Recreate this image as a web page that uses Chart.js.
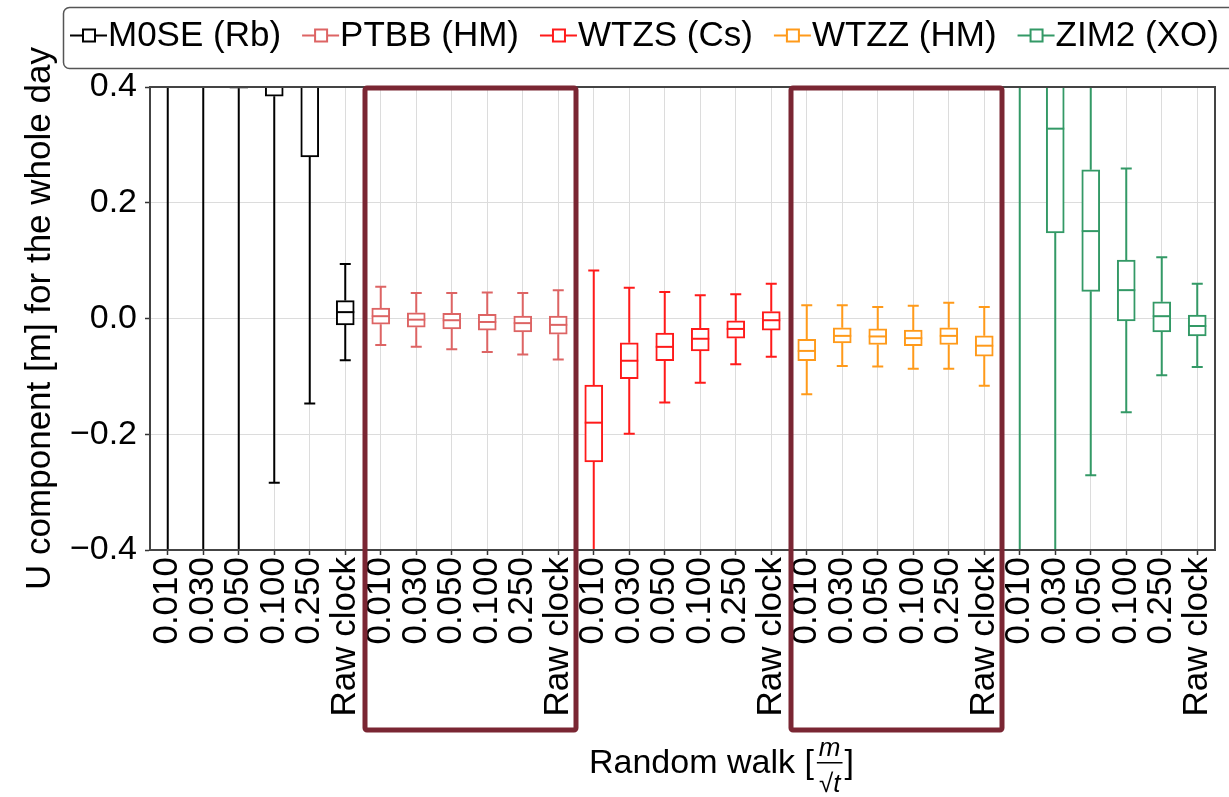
<!DOCTYPE html>
<html><head><meta charset="utf-8">
<script src="https://cdn.jsdelivr.net/npm/chart.js@4/dist/chart.umd.min.js"></script>
<style>html,body{margin:0;padding:0;background:#fff;} #wrap{width:1229px;height:797px;position:relative}</style>
</head><body><div id="wrap"><canvas id="c" width="1229" height="797"></canvas></div>
<script>
// ---------- data ----------
const settings = ['0.010','0.030','0.050','0.100','0.250','Raw clock'];
const stations = ['M0SE (Rb)','PTBB (HM)','WTZS (Cs)','WTZZ (HM)','ZIM2 (XO)'];
const colors = ['#000000','#DD6464','#FF1A1A','#FF9A1A','#339966'];

const M0SE_min = [-1.60, -1.40, -1.20, -0.284, -0.147, -0.072];
const M0SE_q1  = [ 0.75,  0.62,  0.398, 0.384,  0.279, -0.011];
const M0SE_med = [ 1.05,  0.90,  0.62,  0.55,   0.45,   0.011];
const M0SE_q3  = [ 1.40,  1.20,  0.85,  0.72,   0.62,   0.031];
const M0SE_max = [ 2.20,  1.90,  1.50,  1.20,   1.00,   0.094];

const PTBB_min = [-0.046, -0.049, -0.053, -0.058, -0.062, -0.071];
const PTBB_q1  = [-0.010, -0.015, -0.018, -0.020, -0.023, -0.027];
const PTBB_med = [ 0.004, -0.002, -0.003, -0.006, -0.008, -0.011];
const PTBB_q3  = [ 0.018,  0.010,  0.009,  0.007,  0.004,  0.004];
const PTBB_max = [ 0.055,  0.044,  0.044,  0.045,  0.044,  0.049];

const WTZS_min = [-0.46, -0.199, -0.145, -0.111, -0.079, -0.066];
const WTZS_q1  = [-0.248, -0.104, -0.073, -0.056, -0.034, -0.020];
const WTZS_med = [-0.180, -0.073, -0.049, -0.035, -0.018, -0.003];
const WTZS_q3  = [-0.115, -0.042, -0.025, -0.017, -0.004,  0.012];
const WTZS_max = [ 0.083,  0.053,  0.046,  0.040,  0.042,  0.060];

const WTZZ_min = [-0.131, -0.082, -0.083, -0.087, -0.087, -0.116];
const WTZZ_q1  = [-0.073, -0.042, -0.045, -0.047, -0.045, -0.065];
const WTZZ_med = [-0.056, -0.030, -0.031, -0.034, -0.030, -0.047];
const WTZZ_q3  = [-0.036, -0.016, -0.018, -0.020, -0.016, -0.030];
const WTZZ_max = [ 0.023,  0.023,  0.020,  0.022,  0.027,  0.020];

const ZIM2_min = [-1.20, -0.60, -0.271, -0.162, -0.098, -0.084];
const ZIM2_q1  = [ 0.60,  0.148, 0.047, -0.004, -0.023, -0.030];
const ZIM2_med = [ 0.90,  0.328, 0.151,  0.049,  0.004, -0.013];
const ZIM2_q3  = [ 1.20,  0.55,  0.257,  0.101,  0.029,  0.006];
const ZIM2_max = [ 1.80,  0.95,  0.48,   0.259,  0.106,  0.060];

const yTicks = [-0.4, -0.2, 0.0, 0.2, 0.4];
const highlightGroups = [1, 3]; // PTBB and WTZZ are framed

// ---------- build ----------
const FONT = 'Liberation Sans, Arial, Helvetica, sans-serif';
const statSets = [
  {min:M0SE_min, q1:M0SE_q1, med:M0SE_med, q3:M0SE_q3, max:M0SE_max},
  {min:PTBB_min, q1:PTBB_q1, med:PTBB_med, q3:PTBB_q3, max:PTBB_max},
  {min:WTZS_min, q1:WTZS_q1, med:WTZS_med, q3:WTZS_q3, max:WTZS_max},
  {min:WTZZ_min, q1:WTZZ_q1, med:WTZZ_med, q3:WTZZ_q3, max:WTZZ_max},
  {min:ZIM2_min, q1:ZIM2_q1, med:ZIM2_med, q3:ZIM2_q3, max:ZIM2_max}
];
const labels = [];
stations.forEach(() => settings.forEach(s => labels.push(s)));
const nCat = labels.length;

const datasets = stations.map((name, g) => {
  const s = statSets[g];
  const data = new Array(nCat).fill(null);
  settings.forEach((_, i) => { data[g*settings.length + i] = [s.q1[i], s.q3[i]]; });
  return {
    label: name, data, stats: s, group: g,
    backgroundColor: '#ffffff', borderColor: colors[g], borderWidth: 2,
    borderSkipped: false, barThickness: 18, grouped: false, clip: 0
  };
});

const boxExtras = {
  id: 'boxExtras',
  beforeDatasetsDraw(chart) {
    const {ctx, chartArea: a, scales: {y}} = chart;
    ctx.save();
    ctx.beginPath(); ctx.rect(a.left, a.top, a.right - a.left, a.bottom - a.top); ctx.clip();
    chart.data.datasets.forEach((ds, di) => {
      const meta = chart.getDatasetMeta(di);
      const s = ds.stats;
      ctx.strokeStyle = ds.borderColor; ctx.lineWidth = 2;
      settings.forEach((_, i) => {
        const el = meta.data[ds.group*settings.length + i];
        if (!el) return;
        const x = el.x;
        const pMin = y.getPixelForValue(s.min[i]), pQ1 = y.getPixelForValue(s.q1[i]);
        const pQ3 = y.getPixelForValue(s.q3[i]), pMax = y.getPixelForValue(s.max[i]);
        ctx.beginPath();
        ctx.moveTo(x, pQ1); ctx.lineTo(x, pMin);
        ctx.moveTo(x, pQ3); ctx.lineTo(x, pMax);
        ctx.moveTo(x - 5.5, pMin); ctx.lineTo(x + 5.5, pMin);
        ctx.moveTo(x - 5.5, pMax); ctx.lineTo(x + 5.5, pMax);
        ctx.stroke();
      });
    });
    ctx.restore();
  },
  afterDatasetsDraw(chart) {
    const {ctx, chartArea: a, scales: {y}} = chart;
    ctx.save();
    ctx.beginPath(); ctx.rect(a.left, a.top, a.right - a.left, a.bottom - a.top); ctx.clip();
    chart.data.datasets.forEach((ds, di) => {
      const meta = chart.getDatasetMeta(di);
      ctx.strokeStyle = ds.borderColor; ctx.lineWidth = 2;
      settings.forEach((_, i) => {
        const el = meta.data[ds.group*settings.length + i];
        if (!el) return;
        const pMed = y.getPixelForValue(ds.stats.med[i]);
        ctx.beginPath(); ctx.moveTo(el.x - el.width/2, pMed); ctx.lineTo(el.x + el.width/2, pMed); ctx.stroke();
      });
    });
    ctx.restore();
    // frame
    ctx.save();
    ctx.strokeStyle = '#444'; ctx.lineWidth = 2;
    ctx.strokeRect(a.left, a.top, a.right - a.left, a.bottom - a.top);
    ctx.restore();
  },
  afterDraw(chart) {
    const {ctx, chartArea: a, scales: {x}} = chart;
    const n = settings.length;
    // highlight frames
    ctx.save();
    ctx.strokeStyle = '#7A2633'; ctx.lineWidth = 5; ctx.lineJoin = 'round';
    highlightGroups.forEach(g => {
      const first = g*n, last = g*n + n - 1;
      const l = (x.getPixelForValue(first - 1) + x.getPixelForValue(first)) / 2 + 2;
      const r = (x.getPixelForValue(last) + x.getPixelForValue(last + 1)) / 2;
      ctx.beginPath();
      ctx.roundRect(l, a.top + 1, r - l, 730 - a.top - 1, 2);
      ctx.stroke();
    });
    ctx.restore();
    // legend
    ctx.save();
    ctx.fillStyle = '#fff'; ctx.strokeStyle = '#555'; ctx.lineWidth = 1.5;
    ctx.beginPath(); ctx.roundRect(63.5, 7.5, 1200, 61, 6); ctx.fill(); ctx.stroke();
    ctx.font = '35px ' + FONT; ctx.textBaseline = 'middle'; ctx.textAlign = 'left';
    let lx = 70; const ly = 35.5;
    chart.data.datasets.forEach(ds => {
      ctx.strokeStyle = ds.borderColor; ctx.lineWidth = 2;
      ctx.beginPath(); ctx.moveTo(lx, ly); ctx.lineTo(lx + 37, ly); ctx.stroke();
      ctx.fillStyle = '#fff';
      ctx.fillRect(lx + 13, ly - 6, 12, 12); ctx.strokeRect(lx + 13, ly - 6, 12, 12);
      ctx.fillStyle = '#000';
      ctx.fillText(ds.label, lx + 38, ly + 1);
      lx += 38 + ctx.measureText(ds.label).width + 21;
    });
    ctx.restore();
    // x-axis title with fraction
    ctx.save();
    ctx.fillStyle = '#000'; ctx.textBaseline = 'alphabetic'; ctx.textAlign = 'left';
    ctx.font = '34px ' + FONT;
    const t1 = 'Random walk [';
    const tx = 589, tb = 773;
    ctx.fillText(t1, tx, tb);
    const fx = tx + ctx.measureText(t1).width + 3;
    ctx.font = 'italic 26px ' + FONT;
    const wm = ctx.measureText('m').width, wd = ctx.measureText('\u221At').width;
    const fw = Math.max(wm, wd) + 4;
    ctx.fillText('m', fx + (fw - wm)/2, 756);
    ctx.fillText('\u221At', fx + (fw - wd)/2, 792);
    ctx.fillRect(fx, 762, fw, 1.5);
    ctx.font = '34px ' + FONT;
    ctx.fillText(']', fx + fw + 2, tb);
    ctx.restore();
  }
};

new Chart(document.getElementById('c'), {
  type: 'bar',
  data: { labels, datasets },
  options: {
    responsive: false, animation: false,
    layout: { padding: { top: 87, right: 14, left: 0, bottom: 0 } },
    plugins: { legend: { display: false }, tooltip: { enabled: false } },
    scales: {
      x: {
        type: 'category', offset: true,
        grid: { color: '#dcdcdc', lineWidth: 1, offset: false, tickLength: 5, tickColor: '#333', tickWidth: 1.5 },
        border: { color: '#333', width: 2 },
        ticks: { autoSkip: false, minRotation: 90, maxRotation: 90, padding: 2, color: '#000',
                 font: { family: FONT, size: 35 } },
        afterFit(s) { s.height = 247; s.paddingLeft = 0; s.paddingRight = 0; }
      },
      y: {
        min: -0.4, max: 0.4,
        afterBuildTicks(s) { s.ticks = yTicks.map(v => ({ value: v })); },
        grid: { color: '#dcdcdc', lineWidth: 1, tickLength: 5, tickColor: '#333', tickWidth: 1.5 },
        border: { color: '#333', width: 2 },
        ticks: { padding: 8, color: '#000', font: { family: FONT, size: 34 },
                 callback: v => (Math.abs(v) < 1e-9 ? '0.0' : (v < 0 ? '\u2212' : '') + Math.abs(v).toFixed(1)) },
        title: { display: true, text: 'U component [m] for the whole day', color: '#000',
                 font: { family: FONT, size: 35 }, padding: { top: 19, bottom: 0 } },
        afterFit(s) { s.width = 150; s.paddingTop = 0; s.paddingBottom = 0; }
      }
    }
  },
  plugins: [boxExtras]
});
</script></body></html>
